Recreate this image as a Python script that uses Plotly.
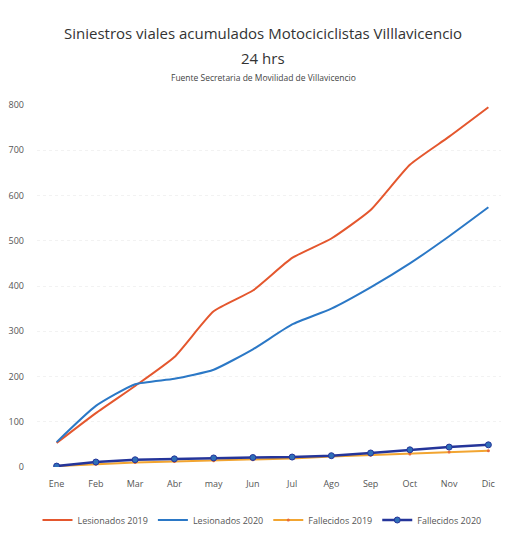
import plotly.graph_objects as go

months = ["Ene", "Feb", "Mar", "Abr", "may", "Jun", "Jul", "Ago", "Sep", "Oct", "Nov", "Dic"]
lesionados_2019 = [53, 119, 179, 243, 344, 390, 462, 505, 568, 668, 730, 795]
lesionados_2020 = [55, 135, 183, 195, 215, 260, 315, 350, 397, 450, 510, 574]
fallecidos_2019 = [2, 6, 10, 12, 14, 16, 19, 23, 26, 29, 33, 36]
fallecidos_2020 = [2, 11, 16, 18, 20, 21, 22, 25, 31, 38, 44, 49]
y_ticks = [0, 100, 200, 300, 400, 500, 600, 700, 800]

fig = go.Figure()
fig.add_trace(go.Scatter(x=months, y=lesionados_2019, name="Lesionados 2019", mode="lines",
                         line=dict(color="#E4572E", width=2, shape="spline", smoothing=0.5)))
fig.add_trace(go.Scatter(x=months, y=lesionados_2020, name="Lesionados 2020", mode="lines",
                         line=dict(color="#2B78C6", width=2, shape="spline", smoothing=0.5)))
fig.add_trace(go.Scatter(x=months, y=fallecidos_2019, name="Fallecidos 2019", mode="lines+markers",
                         line=dict(color="#F2A531", width=2),
                         marker=dict(size=3, color="#E86A3A")))
fig.add_trace(go.Scatter(x=months, y=fallecidos_2020, name="Fallecidos 2020", mode="lines+markers",
                         line=dict(color="#25359A", width=2.5),
                         marker=dict(size=6, color="#2F6FB8", line=dict(color="#25359A", width=1))))

font_family = "Open Sans, Noto Sans, sans-serif"
OFF = 8  # page body margin
W, H = 509 - OFF, 533 - OFF
# plot area in screen pixels: left 37, right 508, top 105, bottom 467
ML = 37 - OFF
MR = W - (508 - OFF)
MT = 105 - OFF
MB = H - (467 - OFF)
plot_w = W - ML - MR
plot_h = H - MT - MB

def px_x(sx):
    return (sx - OFF - ML) / plot_w

def px_y(sy):
    return (H - MB - (sy - OFF)) / plot_h

fig.update_layout(
    width=W, height=H,
    paper_bgcolor="white", plot_bgcolor="white",
    margin=dict(l=ML, r=MR, t=MT, b=MB, autoexpand=False),
    font=dict(family=font_family, color="#555555", size=9),
    showlegend=True,
    legend=dict(orientation="h", x=px_x(262), xanchor="center", y=px_y(520), yanchor="middle",
                font=dict(size=9, color="#555555"), tracegroupgap=0),
    annotations=[
        dict(text="Siniestros viales acumulados Motociciclistas Villlavicencio", x=px_x(263), xref="paper",
             y=px_y(33), yref="paper", yanchor="middle", showarrow=False,
             font=dict(size=15, color="#333333")),
        dict(text="24 hrs", x=px_x(263), xref="paper", y=px_y(58), yref="paper", yanchor="middle",
             showarrow=False, font=dict(size=15, color="#333333")),
        dict(text="Fuente Secretaria de Movilidad de Villavicencio", x=px_x(263), xref="paper",
             y=px_y(78), yref="paper", yanchor="middle", showarrow=False,
             font=dict(size=8.5, color="#444444")),
    ],
)

fig.update_xaxes(range=[-0.5, 11.5], showgrid=False, showline=False, ticks="",
                 ticklabelstandoff=10, tickfont=dict(size=9, color="#555555"))
fig.update_yaxes(range=[0, 800], tickvals=y_ticks, showgrid=True, gridcolor="#f2f2f2",
                 griddash="dot", zeroline=False, showline=False, ticks="",
                 ticklabelstandoff=12, tickfont=dict(size=9, color="#555555"))

fig.write_html("out.html")
